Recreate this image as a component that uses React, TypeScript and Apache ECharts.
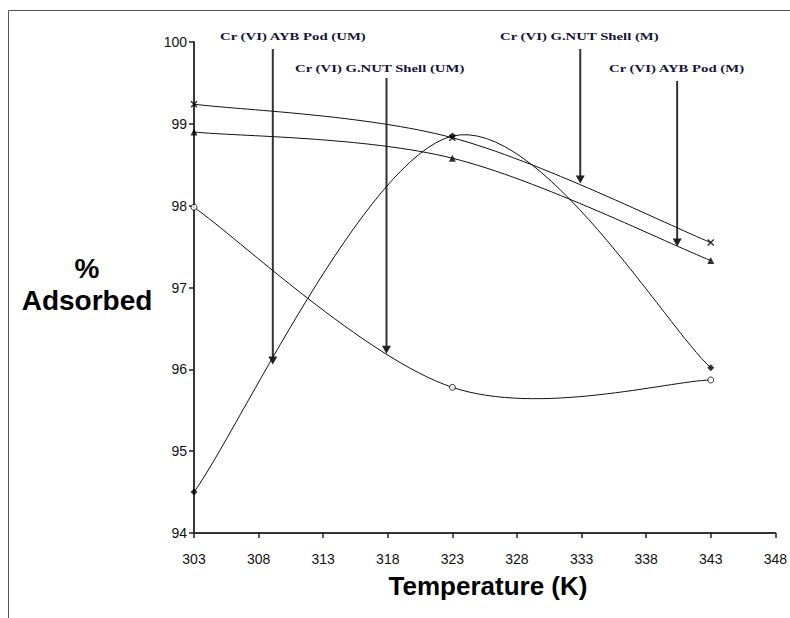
import React, { useEffect, useRef } from "react";
import * as echarts from "echarts";

const temps = [303, 323, 343];
const aybPodUM = [94.5, 98.85, 96.02];
const gnutShellUM = [97.98, 95.78, 95.87];
const gnutShellM = [99.24, 98.83, 97.55];
const aybPodM = [98.9, 98.58, 97.33];

const annotations = [
  { text: "Cr (VI) AYB Pod (UM)", x: 220, y: 36, ax: 309.1, ay: 96.06, top: 49 },
  { text: "Cr (VI) G.NUT Shell (UM)", x: 295, y: 68, ax: 317.9, ay: 96.19, top: 78 },
  { text: "Cr (VI) G.NUT Shell (M)", x: 500, y: 36, ax: 332.9, ay: 98.27, top: 49 },
  { text: "Cr (VI) AYB Pod (M)", x: 609, y: 68, ax: 340.4, ay: 97.5, top: 81 },
];

const pairs = (ys: number[]) => temps.map((t, i) => [t, ys[i]]);

// Excel-style smoothed line: cubic Bezier segments with Catmull-Rom tangents (1/6)
function curveSeries(name: string, ys: number[]) {
  return {
    name: name + " curve",
    type: "custom",
    data: pairs(ys),
    encode: { x: 0, y: 1 },
    silent: true,
    z: 2,
    renderItem: (params: any, api: any) => {
      const i = params.dataIndexInside;
      const n = params.dataInsideLength;
      if (i >= n - 1) return { type: "group", children: [] };
      const pt = (j: number) => {
        const k = Math.max(0, Math.min(n - 1, j));
        return api.coord([api.value(0, k), api.value(1, k)]);
      };
      const p0 = pt(i - 1);
      const p1 = pt(i);
      const p2 = pt(i + 1);
      const p3 = pt(i + 2);
      return {
        type: "bezierCurve",
        shape: {
          x1: p1[0],
          y1: p1[1],
          cpx1: p1[0] + (p2[0] - p0[0]) / 6,
          cpy1: p1[1] + (p2[1] - p0[1]) / 6,
          cpx2: p2[0] - (p3[0] - p1[0]) / 6,
          cpy2: p2[1] - (p3[1] - p1[1]) / 6,
          x2: p2[0],
          y2: p2[1],
        },
        style: { stroke: "#111", lineWidth: 1, fill: null },
      };
    },
  };
}

export default function App() {
  const ref = useRef<HTMLDivElement>(null);
  useEffect(() => {
    if (!ref.current) return;
    const chart = echarts.init(ref.current, null, { renderer: "svg" });
    const option: any = {
      animation: false,
      backgroundColor: "#fff",
      grid: { left: 194, top: 42, right: 11, bottom: 85 },
      xAxis: {
        type: "value",
        min: 303,
        max: 348,
        interval: 5,
        axisLine: { show: true, lineStyle: { color: "#333", width: 1.8 } },
        axisTick: { show: true, length: 5, lineStyle: { color: "#222", width: 1.5 } },
        axisLabel: { fontFamily: "Liberation Sans, Arial", fontSize: 14, color: "#111", margin: 19 },
        splitLine: { show: false },
      },
      yAxis: {
        type: "value",
        min: 94,
        max: 100,
        interval: 1,
        axisLine: { show: true, lineStyle: { color: "#222", width: 1.8 } },
        axisTick: { show: true, length: 5, lineStyle: { color: "#222", width: 1.5 } },
        axisLabel: { fontFamily: "Liberation Sans, Arial", fontSize: 14, color: "#111", margin: 7 },
        splitLine: { show: false },
      },
      series: [
        curveSeries("Cr (VI) AYB Pod (UM)", aybPodUM),
        curveSeries("Cr (VI) G.NUT Shell (UM)", gnutShellUM),
        curveSeries("Cr (VI) G.NUT Shell (M)", gnutShellM),
        curveSeries("Cr (VI) AYB Pod (M)", aybPodM),
        {
          name: "Cr (VI) AYB Pod (UM)",
          type: "scatter",
          z: 3,
          data: pairs(aybPodUM),
          symbol: "diamond",
          symbolSize: 7,
          itemStyle: { color: "#000" },
        },
        {
          name: "Cr (VI) G.NUT Shell (UM)",
          type: "scatter",
          z: 3,
          data: pairs(gnutShellUM),
          symbol: "circle",
          symbolSize: 6,
          itemStyle: { color: "#fff", borderColor: "#000", borderWidth: 1 },
        },
        {
          name: "Cr (VI) G.NUT Shell (M)",
          type: "scatter",
          z: 3,
          data: pairs(gnutShellM),
          symbol: "path://M0,0L10,10M10,0L0,10",
          symbolSize: 6,
          itemStyle: { color: "#000", borderColor: "#000", borderWidth: 1.5 },
        },
        {
          name: "Cr (VI) AYB Pod (M)",
          type: "scatter",
          z: 3,
          data: pairs(aybPodM),
          symbol: "triangle",
          symbolSize: 7,
          itemStyle: { color: "#000" },
        },
      ],
    };
    chart.setOption(option);

    const graphics: any[] = [
      {
        type: "rect",
        shape: { x: 8.5, y: 10.5, width: 900, height: 700 },
        style: { fill: "none", stroke: "#555", lineWidth: 1 },
        silent: true,
      },
      {
        type: "text",
        x: 87,
        y: 268,
        style: { text: "%", font: "bold 28px Liberation Sans, Arial", fill: "#000", align: "center", verticalAlign: "middle" },
      },
      {
        type: "text",
        x: 87,
        y: 300,
        style: { text: "Adsorbed", font: "bold 28px Liberation Sans, Arial", fill: "#000", align: "center", verticalAlign: "middle" },
      },
      {
        type: "text",
        x: 488,
        y: 586,
        style: { text: "Temperature (K)", font: "bold 26px Liberation Sans, Arial", fill: "#000", align: "center", verticalAlign: "middle" },
      },
    ];
    annotations.forEach((a) => {
      const p = chart.convertToPixel({ gridIndex: 0 }, [a.ax, a.ay]) as number[];
      const px = p[0];
      const py = p[1];
      graphics.push({
        type: "text",
        x: a.x,
        y: a.y,
        scaleX: 1.34,
        style: {
          text: a.text,
          font: "bold 11px Liberation Serif, Times New Roman",
          fill: "#14143a",
          align: "left",
          verticalAlign: "middle",
        },
      });
      graphics.push({
        type: "line",
        shape: { x1: px, y1: a.top, x2: px, y2: py - 6 },
        style: { stroke: "#333", lineWidth: 2 },
      });
      graphics.push({
        type: "polygon",
        shape: { points: [[px - 4.5, py - 8], [px + 4.5, py - 8], [px, py]] },
        style: { fill: "#222" },
      });
    });
    chart.setOption({ graphic: graphics });
    return () => chart.dispose();
  }, []);
  return (
    <div
      ref={ref}
      style={{ position: "fixed", left: 0, top: 0, width: 790, height: 618 }}
    />
  );
}
